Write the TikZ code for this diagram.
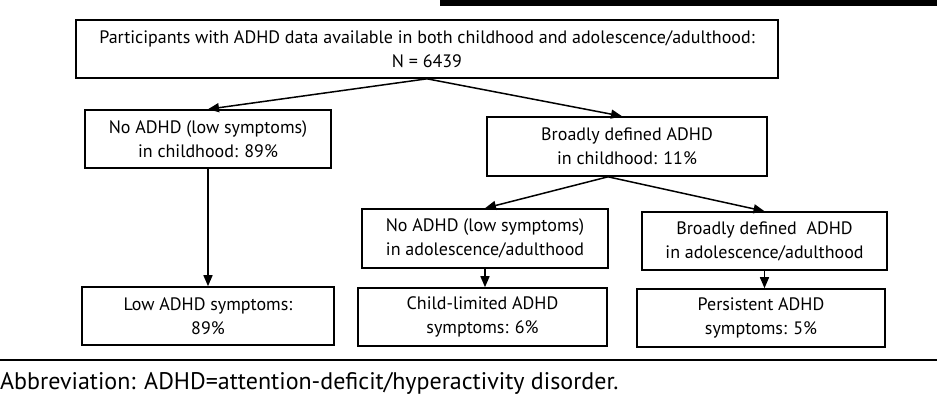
\documentclass[tikz,border=0pt]{standalone}
\usepackage{fontspec}
\setmainfont{PT Sans}
\usetikzlibrary{arrows.meta}

\begin{document}
\begin{tikzpicture}[
            x=1pt, y=-1pt,
            box/.style={draw, line width=1.6pt, align=center, inner sep=0pt,
                        font=\fontsize{18}{24}\selectfont},
            arr/.style={-{Triangle[length=11pt, width=9pt]}, line width=1.5pt},
            ]
            \useasboundingbox (0,0) rectangle (937,405);
            \fill (440,0) rectangle (937,6);
            \node[box, minimum width=702, minimum height=58] (all) at (427,49)
                {Participants with ADHD data available in both childhood and adolescence/adulthood:\\N = 6439};
            \node[box, minimum width=246, minimum height=58] (noc) at (208,139)
                {No ADHD (low symptoms)\\in childhood: 89\%};
            \node[box, minimum width=280, minimum height=59] (adc) at (627,146.5)
                {Broadly defined ADHD\\in childhood: 11\%};
            \node[box, minimum width=246, minimum height=59] (noa) at (485,238.5)
                {No ADHD (low symptoms)\\in adolescence/adulthood};
            \node[box, minimum width=245, minimum height=58] (ada) at (764.5,241)
                {Broadly defined\ \ ADHD\\in adolescence/adulthood};
            \node[box, minimum width=252, minimum height=58] (low) at (208,316)
                {Low ADHD symptoms:\\89\%};
            \node[box, minimum width=249, minimum height=58] (lim) at (482.5,317)
                {Child-limited ADHD\\symptoms: 6\%};
            \node[box, minimum width=248, minimum height=58] (per) at (761,318)
                {Persistent ADHD\\symptoms: 5\%};
            % arrows
            \draw[arr] (all.south) -- (noc.north);
            \draw[arr] (all.south) -- ([xshift=-5pt]adc.north);
            \draw[arr] (noc.south) -- (low.north);
            \draw[arr] ([xshift=-19pt]adc.south) -- (noa.north);
            \draw[arr] ([xshift=-19pt]adc.south) -- (ada.north);
            \draw[arr] (noa.south) -- (noa.south |- lim.north);
            \draw[arr] (ada.south) -- (ada.south |- per.north);
            % footnote
            \draw[line width=2pt] (0,360) -- (937,360);
            \node[anchor=west, inner sep=0pt, font=\fontsize{24}{28}\selectfont] (abbr) at (0,383)
                {Abbreviation: ADHD=attention-deficit/hyperactivity disorder.};
        \end{tikzpicture}
\end{document}
